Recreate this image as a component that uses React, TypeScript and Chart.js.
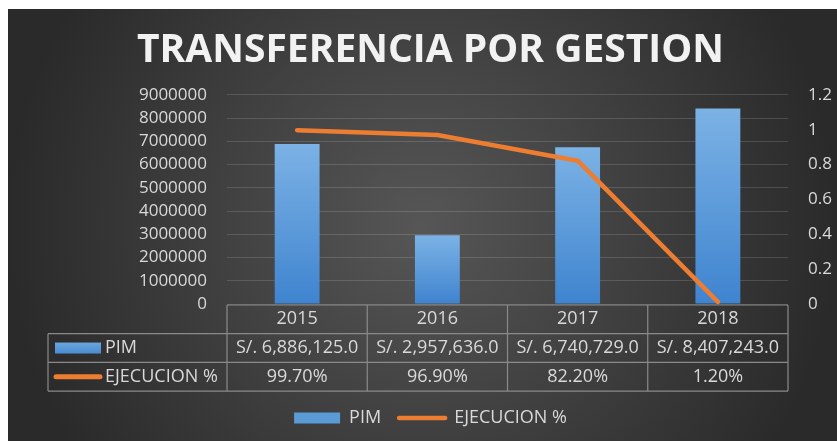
import React, { useEffect, useRef } from 'react';
import { Chart, registerables } from 'chart.js';

Chart.register(...registerables);

const titleText = 'TRANSFERENCIA POR GESTION';
const categories = ['2015', '2016', '2017', '2018'];
const pimLabel = 'PIM';
const ejecLabel = 'EJECUCION %';
const pimValues = [6886125, 2957636, 6740729, 8407243];
const ejecucionValues = [0.997, 0.969, 0.822, 0.012];
const leftAxis = { min: 0, max: 9000000, step: 1000000 };
const rightAxis = { min: 0, max: 1.2, step: 0.2 };

const FONT = "'Open Sans', sans-serif";
const TEXT = '#d9d9d9';
const BLUE_TOP = '#7cb2e5';
const BLUE_BOTTOM = '#3f84cf';
const BLUE_FLAT = '#5b9bd5';
const ORANGE = '#ed7d31';
const TABLE_LINE = '#8a8a8a';
const FS = 17;
const FS_TABLE = 18;

const fmtPim = (v: number) =>
  'S/. ' + v.toLocaleString('en-US', { minimumFractionDigits: 1, maximumFractionDigits: 1 });
const fmtPct = (v: number) => (v * 100).toFixed(2) + '%';

const tablePlugin = {
  id: 'dataTable',
  afterDraw(chart: any) {
    const { ctx, chartArea } = chart;
    const xs = chart.scales.x;
    const n = categories.length;
    const step = n > 1 ? xs.getPixelForValue(1) - xs.getPixelForValue(0) : chartArea.width;
    const colLeft = (i: number) => xs.getPixelForValue(0) - step / 2 + i * step;
    const rowH = 28.7;
    const top = chartArea.bottom + 1;
    const legendLeft = 40;
    const right = colLeft(n);

    ctx.save();
    ctx.strokeStyle = TABLE_LINE;
    ctx.lineWidth = 1.2;
    ctx.beginPath();
    ctx.moveTo(colLeft(0), top);
    ctx.lineTo(right, top);
    for (let r = 1; r <= 3; r++) {
      ctx.moveTo(legendLeft, top + r * rowH);
      ctx.lineTo(right, top + r * rowH);
    }
    ctx.moveTo(legendLeft, top + rowH);
    ctx.lineTo(legendLeft, top + 3 * rowH);
    for (let i = 0; i <= n; i++) {
      ctx.moveTo(colLeft(i), top);
      ctx.lineTo(colLeft(i), top + 3 * rowH);
    }
    ctx.stroke();

    ctx.fillStyle = TEXT;
    ctx.font = `${FS_TABLE}px ${FONT}`;
    ctx.textBaseline = 'middle';
    ctx.textAlign = 'center';
    for (let i = 0; i < n; i++) {
      const cx = colLeft(i) + step / 2;
      ctx.fillText(categories[i], cx, top + rowH * 0.5);
      ctx.fillText(fmtPim(pimValues[i]), cx, top + rowH * 1.5);
      ctx.fillText(fmtPct(ejecucionValues[i]), cx, top + rowH * 2.5);
    }

    // legend keys inside table
    const r1 = top + rowH * 1.5;
    const r2 = top + rowH * 2.5;
    const g = ctx.createLinearGradient(0, r1 - 5.5, 0, r1 + 5.5);
    g.addColorStop(0, '#6aa6df');
    g.addColorStop(1, '#4a8cd2');
    ctx.fillStyle = g;
    ctx.fillRect(legendLeft + 7, r1 - 5.5, 46, 11);
    ctx.strokeStyle = ORANGE;
    ctx.lineWidth = 5;
    ctx.lineCap = 'round';
    ctx.beginPath();
    ctx.moveTo(legendLeft + 8, r2);
    ctx.lineTo(legendLeft + 52, r2);
    ctx.stroke();

    ctx.fillStyle = TEXT;
    ctx.textAlign = 'left';
    ctx.fillText(pimLabel, legendLeft + 57, r1);
    ctx.fillText(ejecLabel, legendLeft + 57, r2);
    ctx.restore();
  },
};

export default function App() {
  const canvasRef = useRef<HTMLCanvasElement | null>(null);

  useEffect(() => {
    if (!canvasRef.current) return;
    const chart = new Chart(canvasRef.current, {
      type: 'bar',
      data: {
        labels: categories,
        datasets: [
          {
            type: 'bar',
            label: pimLabel,
            data: pimValues,
            yAxisID: 'y',
            order: 1,
            pointStyle: 'rect',
            borderWidth: 0,
            barPercentage: 0.4,
            categoryPercentage: 0.8,
            backgroundColor: (c: any) => {
              const chart = c.chart;
              const area = chart.chartArea;
              if (!area || c.dataIndex === undefined) return BLUE_FLAT;
              const top = chart.scales.y.getPixelForValue(pimValues[c.dataIndex]);
              const grad = chart.ctx.createLinearGradient(0, top, 0, area.bottom);
              grad.addColorStop(0, BLUE_TOP);
              grad.addColorStop(1, BLUE_BOTTOM);
              return grad;
            },
          } as any,
          {
            type: 'line',
            label: ejecLabel,
            data: ejecucionValues,
            yAxisID: 'y1',
            order: 0,
            borderColor: ORANGE,
            backgroundColor: ORANGE,
            borderWidth: 4.5,
            borderCapStyle: 'round',
            borderJoinStyle: 'round',
            pointRadius: 0,
            pointHoverRadius: 0,
            pointStyle: 'line',
            tension: 0,
          } as any,
        ],
      },
      options: {
        animation: false,
        responsive: false,
        devicePixelRatio: 1,
        layout: { padding: { left: 16, right: 0, top: 0, bottom: 4 } },
        plugins: {
          title: {
            display: true,
            text: titleText,
            color: '#f2f2f2',
            font: { family: FONT, size: 39, weight: 'bold' },
            padding: { top: 18, bottom: 21 },
          },
          legend: {
            display: true,
            position: 'bottom',
            labels: {
              color: TEXT,
              font: { family: FONT, size: FS_TABLE },
              usePointStyle: true,
              pointStyleWidth: 46,
              boxHeight: 11,
              padding: 18,
              sort: (a: any, b: any) => a.datasetIndex - b.datasetIndex,
              generateLabels: (chart: any) => {
                const items = Chart.defaults.plugins.legend.labels.generateLabels(chart);
                return items.map((it: any) =>
                  it.datasetIndex === 0
                    ? { ...it, pointStyle: 'rect', fillStyle: BLUE_FLAT, strokeStyle: BLUE_FLAT, lineWidth: 0 }
                    : { ...it, pointStyle: 'line', fillStyle: ORANGE, strokeStyle: ORANGE, lineWidth: 4.5, lineCap: 'round' }
                );
              },
            },
          },
          tooltip: { enabled: false },
        },
        scales: {
          x: {
            offset: true,
            grid: { display: false },
            border: { display: false },
            ticks: { display: false },
            afterFit: (s: any) => {
              s.height = 87;
            },
          },
          y: {
            position: 'left',
            min: leftAxis.min,
            max: leftAxis.max,
            ticks: {
              stepSize: leftAxis.step,
              autoSkip: false,
              color: TEXT,
              font: { family: FONT, size: FS },
              padding: 20,
              callback: (v: any) => String(Math.round(Number(v))),
            },
            grid: { color: 'rgba(255,255,255,0.14)', drawTicks: false, lineWidth: 1 },
            border: { display: false },
            afterFit: (s: any) => {
              s.width = 203;
            },
          },
          y1: {
            position: 'right',
            min: rightAxis.min,
            max: rightAxis.max,
            ticks: {
              stepSize: rightAxis.step,
              autoSkip: false,
              color: TEXT,
              font: { family: FONT, size: FS },
              padding: 20,
              callback: (v: any) => String(Number(Number(v).toFixed(1))),
            },
            grid: { display: false, drawTicks: false },
            border: { display: false },
            afterFit: (s: any) => {
              s.width = 49;
            },
          },
        },
      },
      plugins: [tablePlugin],
    } as any);
    return () => chart.destroy();
  }, []);

  return (
    <div
      style={{
        position: 'fixed',
        left: 8,
        top: 9,
        width: 829,
        height: 432,
        background: 'radial-gradient(circle 415px at 50% 50%, #565656 0%, #2a2a2a 100%)',
      }}
    >
      <canvas ref={canvasRef} width={829} height={432} style={{ display: 'block' }} />
    </div>
  );
}
